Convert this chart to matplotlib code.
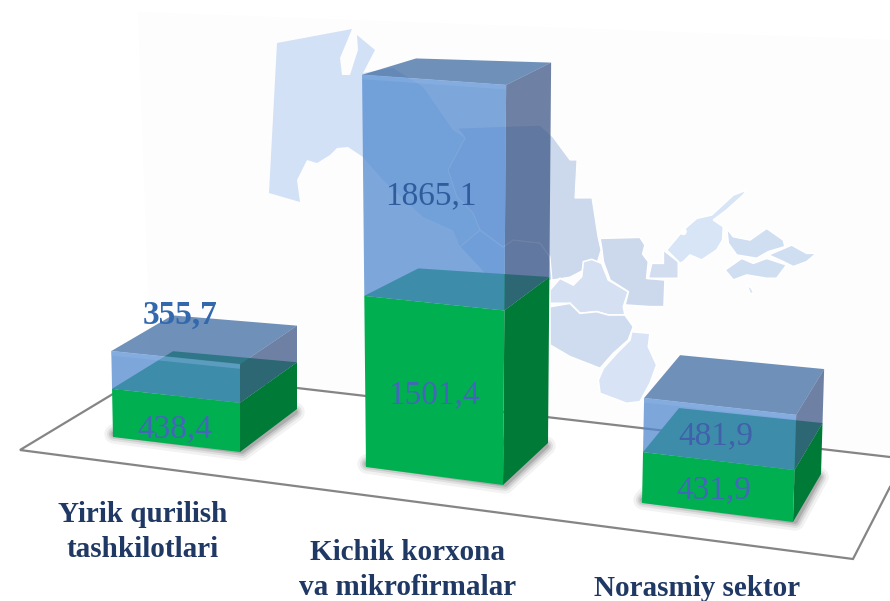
import matplotlib
matplotlib.use('Agg')
import matplotlib.pyplot as plt
from matplotlib.patches import Polygon, Circle

# values
categories = ['Yirik qurilish\ntashkilotlari', 'Kichik korxona\nva mikrofirmalar', 'Norasmiy sektor']
green_values = [438.4, 1501.4, 431.9]
blue_values = [355.7, 1865.1, 481.9]
green_labels = ['438,4', '1501,4', '431,9']
blue_labels = ['355,7', '1865,1', '481,9']

# pixels per unit for each bar, the 3d picture is not quite to scale
green_scale = [0.110, 0.114, 0.118]
blue_scale = [0.106, 0.1185, 0.112]

# bar footprint in the picture
front_left = [(113, 437), (366, 467), (642, 503)]
front_right = [(240, 452), (503, 485), (793, 522)]
depth_right = [(57, -43), (45, -42), (28, -48)]
depth_left = [(61, -40), (54, -36), (36, -45)]
flatten = [0.05, 0.05, 0.02]
lean_left = [-0.02, -0.01, 0.02]
lean_right = [0.0, 0.008, 0.03]

blue_label_y = [315, 196, 436]
green_label_y = [429, 395, 490]
label_x = [[180, 431, 716], [175, 434, 714]]
cat_pos = [(143, 532), (408, 570), (697, 589)]

# map regions, picture pixels (decoration behind the chart)
karakalpak = [(277, 43), (352, 29), (340, 58), (342, 75), (350, 75), (358, 50), (357, 35), (375, 50),
              (363, 73), (393, 68), (423, 87), (453, 130), (465, 138), (448, 170), (457, 197), (473, 213),
              (480, 230), (460, 247), (453, 230), (423, 217), (383, 180), (363, 157), (348, 147), (337, 148),
              (330, 155), (317, 163), (307, 160), (297, 180), (300, 202), (269, 193)]
navoi = [(465, 138), (457, 128), (540, 125), (553, 137), (570, 160), (577, 160), (575, 198), (592, 198), (598, 237),
         (601, 250), (597, 263), (570, 277), (552, 280), (550, 257), (540, 243), (513, 240), (503, 247),
         (480, 230), (473, 213), (457, 197), (448, 170)]
bukhara = [(480, 230), (503, 247), (513, 240), (540, 243), (550, 257), (552, 280), (500, 290), (460, 247)]
samarkand = [(190, 395), (215, 388), (245, 400), (265, 450), (325, 485), (310, 530), (315, 555), (265, 555),
             (230, 545), (180, 550), (150, 520), (90, 520), (90, 480), (120, 445), (160, 465), (185, 440)]
kashka = [(90, 530), (150, 520), (180, 550), (230, 545), (265, 555), (315, 555), (340, 590), (325, 630), (280, 670),
          (240, 715), (150, 680), (90, 645)]
surkhan = [(335, 605), (390, 610), (385, 650), (410, 705), (390, 760), (360, 815), (320, 820), (240, 790), (235, 750),
           (250, 715), (290, 670), (330, 630)]
jizzakh = [(240, 325), (360, 322), (375, 345), (368, 372), (385, 395), (380, 445), (435, 450), (432, 530), (390, 530),
           (315, 525), (325, 485), (270, 450), (250, 395), (245, 355)]
syrdarya = [(395, 400), (430, 400), (430, 360), (475, 395), (475, 445), (385, 445)]
tashkent = [(440, 360), (490, 300), (530, 265), (575, 255), (640, 195), (680, 180), (670, 195), (620, 240), (580, 270),
            (610, 290), (608, 330), (590, 360), (545, 390), (510, 375), (490, 395), (480, 400)]
namangan = [(620, 295), (640, 320), (690, 330), (740, 295), (790, 330), (795, 350), (745, 365), (710, 385), (650, 375), (625, 340)]
andijan = [(745, 375), (815, 345), (860, 370), (890, 370), (860, 395), (820, 410), (790, 395)]
fergana = [(615, 420), (665, 385), (700, 400), (740, 385), (800, 405), (770, 445), (740, 445), (680, 435), (640, 450)]
spot = [(680, 465), (695, 475), (702, 492), (690, 490)]


def to_px(pts):
    return [(520 + x / 3, 130 + y / 3) for x, y in pts]


def bar_points(i, h0, h1):
    # corners of one box from height h0 to h1 (pixels above the floor)
    def corners(h):
        fl = (front_left[i][0] + lean_left[i] * h, front_left[i][1] - h)
        fr = (front_right[i][0] + lean_right[i] * h, front_right[i][1] - h * 1.02)
        br = (fr[0] + depth_right[i][0], fr[1] + depth_right[i][1] + flatten[i] * h)
        bl = (fl[0] + depth_left[i][0], fl[1] + depth_left[i][1] + flatten[i] * h)
        return fl, fr, br, bl
    return corners(h0), corners(h1)


fig = plt.figure(figsize=(8.9, 6.01), dpi=100)
ax = fig.add_axes([0, 0, 1, 1])
ax.set_xlim(0, 890)
ax.set_ylim(601, 0)
ax.axis('off')

# faint back panel
ax.add_patch(Polygon([(138, 12), (890, 40), (890, 457), (151, 371)], fc='#fdfdfe', ec='none', zorder=1))

# map
ax.add_patch(Polygon(karakalpak, fc='#d2e1f5', ec='none', zorder=2))
ax.add_patch(Polygon(bukhara, fc='#cbdaf0', ec='white', lw=0.8, zorder=2))
ax.add_patch(Polygon(navoi, fc='#ccd8ec', ec='white', lw=0.8, zorder=2))
regions = [(samarkand, '#d5e1f3'), (kashka, '#cfdcf0'), (surkhan, '#d8e4f5'), (jizzakh, '#ccd8ec'),
           (syrdarya, '#d2ddf0'), (tashkent, '#d7e5f7'), (namangan, '#d0def2'), (andijan, '#d0def2'),
           (fergana, '#d0def2'), (spot, '#d8e4f5')]
for pts, col in regions:
    ax.add_patch(Polygon(to_px(pts), fc=col, ec='white', lw=1.2, zorder=2))
ax.add_patch(Circle((520 + 490 / 3, 130 + 305 / 3), 3.5, fc='white', ec='none', zorder=2))

# floor
floor_x = [890, 151, 20, 853, 890]
floor_y = [457, 371, 450, 559, 487]
ax.plot(floor_x, floor_y, color='#858585', lw=1.6, zorder=3, solid_joinstyle='miter')

# bars
for i in range(len(categories)):
    g = green_values[i] * green_scale[i]
    b = blue_values[i] * blue_scale[i]

    base, g_top = bar_points(i, 0, g)
    fl, fr, br, bl = base

    # soft shadow on the floor
    for lw, al in [(14, 0.05), (10, 0.07), (7, 0.10), (4, 0.14)]:
        ax.add_patch(Polygon([(fl[0] + 1, fl[1] - 3), (fr[0] + 2, fr[1] - 1), (br[0] - 2, br[1] + 3), (bl[0], bl[1] + 4)],
                             fc='none', ec=(0, 0, 0, al), lw=lw, zorder=4, joinstyle='round'))

    # green box
    ax.add_patch(Polygon([g_top[0], g_top[1], g_top[2], g_top[3]], fc='#00963c', ec='none', zorder=5))
    ax.add_patch(Polygon([fr, br, g_top[2], g_top[1]], fc='#007a37', ec='none', zorder=5))
    ax.add_patch(Polygon([fl, fr, g_top[1], g_top[0]], fc='#00b050', ec='none', zorder=5))

    # blue box on top, see through
    _, b_top = bar_points(i, g, g + b)
    ax.add_patch(Polygon(b_top, fc='#406ca2', ec='none', alpha=0.75, zorder=6))
    ax.add_patch(Polygon([g_top[1], g_top[2], b_top[2], b_top[1]], fc='#3e5887', ec='none', alpha=0.75, zorder=6))
    ax.add_patch(Polygon([g_top[0], g_top[1], b_top[1], b_top[0]], fc='#528ad0', ec='none', alpha=0.75, zorder=6))

    # light bevel on the top front edge
    ax.plot([b_top[0][0], b_top[1][0]], [b_top[0][1] + 2, b_top[1][1] + 2], color='#8fb5e6', lw=3.5, alpha=0.4, zorder=7,
            solid_capstyle='butt')

# labels
for i in range(len(categories)):
    ax.text(label_x[0][i], blue_label_y[i], blue_labels[i], family='Liberation Serif', fontsize=24,
            color='#3468ad' if i == 0 else ('#2f5c9c' if i == 1 else '#4060ac'),
            fontweight='bold' if i == 0 else 'normal', ha='center', va='center', zorder=8)
    ax.text(label_x[1][i], green_label_y[i], green_labels[i], family='Liberation Serif', fontsize=24,
            color='#4466b8', ha='center', va='center', zorder=8)
    ax.text(cat_pos[i][0], cat_pos[i][1], categories[i], family='Liberation Serif', fontsize=21, fontweight='bold',
            color='#1f3864', ha='center', va='center', linespacing=1.38, zorder=8)

plt.savefig('out.png', dpi=100)
